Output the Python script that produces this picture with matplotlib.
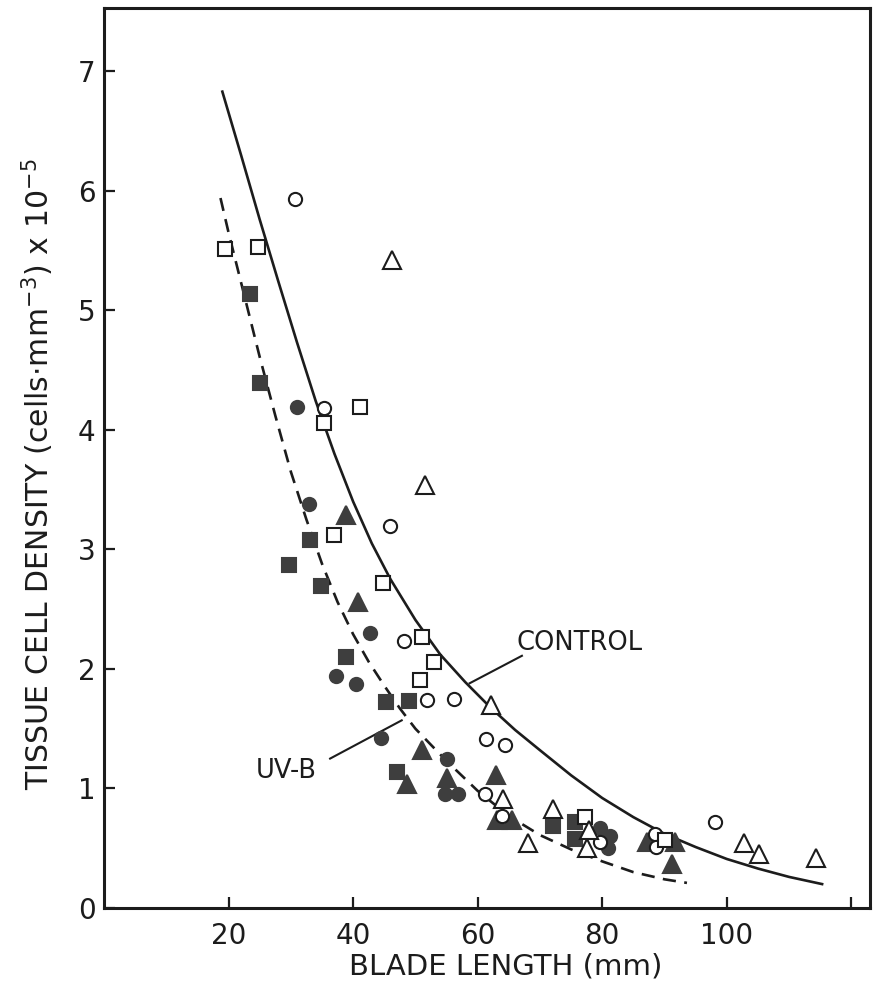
import matplotlib
matplotlib.use("Agg")
import matplotlib.pyplot as plt

plt.rcParams['font.family'] = ['DejaVu Sans']

# ---------------- data ----------------
# CONTROL (open symbols)
ctrl_circle_x = [30.7, 35.3, 45.9, 48.1, 51.8, 56.2, 61.4, 64.4, 61.2, 63.9, 79.6, 88.5, 88.7, 98.1]
ctrl_circle_y = [5.93, 4.18, 3.20, 2.23, 1.74, 1.75, 1.41, 1.36, 0.95, 0.77, 0.55, 0.62, 0.51, 0.72]

ctrl_square_x = [19.5, 24.7, 35.3, 41.1, 37.0, 44.8, 51.1, 53.0, 50.7, 77.2, 90.1]
ctrl_square_y = [5.51, 5.53, 4.06, 4.19, 3.12, 2.72, 2.27, 2.06, 1.91, 0.76, 0.57]

ctrl_tri_x = [46.2, 51.5, 62.2, 64.1, 72.1, 68.1, 77.8, 77.6, 102.7, 105.1, 114.4]
ctrl_tri_y = [5.42, 3.54, 1.70, 0.91, 0.83, 0.54, 0.65, 0.50, 0.54, 0.45, 0.42]

# UV-B (filled symbols)
uvb_circle_x = [31.0, 32.9, 42.7, 37.2, 40.4, 44.5, 55.0, 54.7, 56.9, 79.6, 81.3, 81.0]
uvb_circle_y = [4.19, 3.38, 2.30, 1.94, 1.87, 1.42, 1.25, 0.95, 0.95, 0.67, 0.60, 0.50]

uvb_square_x = [23.5, 25.1, 33.0, 29.7, 34.9, 38.8, 45.2, 48.9, 47.0, 72.1, 75.6, 75.6]
uvb_square_y = [5.14, 4.39, 3.08, 2.87, 2.69, 2.10, 1.72, 1.73, 1.14, 0.69, 0.72, 0.58]

uvb_tri_x = [38.9, 40.8, 51.0, 63.0, 48.6, 55.0, 63.1, 65.5, 87.2, 91.7, 91.2]
uvb_tri_y = [3.29, 2.56, 1.32, 1.11, 1.04, 1.09, 0.74, 0.74, 0.55, 0.55, 0.37]

# fitted curves
control_curve_x = [19.0, 22.0, 25.0, 28.0, 31.0, 34.0, 37.0, 40.0, 43.0, 46.0, 50.0, 54.0,
                   58.0, 62.0, 66.0, 70.0, 75.0, 80.0, 85.0, 90.0, 95.0, 100.0, 105.0,
                   110.0, 115.3]
control_curve_y = [6.83, 6.30, 5.76, 5.24, 4.73, 4.24, 3.80, 3.40, 3.05, 2.75, 2.41, 2.12,
                   1.89, 1.68, 1.49, 1.32, 1.11, 0.92, 0.76, 0.62, 0.51, 0.41, 0.33,
                   0.26, 0.20]

uvb_curve_x = [18.7, 20.0, 22.5, 25.0, 27.5, 30.0, 32.5, 35.0, 37.5, 40.0, 42.5, 45.0,
               47.5, 50.0, 55.0, 60.0, 65.0, 70.0, 75.0, 80.0, 85.0, 90.0, 93.6]
uvb_curve_y = [5.94, 5.65, 5.13, 4.61, 4.12, 3.65, 3.25, 2.88, 2.56, 2.29, 2.06, 1.86,
               1.67, 1.50, 1.23, 0.98, 0.77, 0.61, 0.49, 0.39, 0.30, 0.24, 0.21]

x_ticks = [20, 40, 60, 80, 100, 120]
x_tick_labels = ['20', '40', '60', '80', '100', '']
y_ticks = [0, 1, 2, 3, 4, 5, 6, 7]
y_tick_labels = ['0', '1', '2', '3', '4', '5', '6', '7']

# curve labels and leader lines
control_label = ("CONTROL", 76.4, 2.22)
control_leader = ([58.7, 67.1], [1.88, 2.11])
uvb_label = ("UV-B", 29.2, 1.15)
uvb_leader = ([36.3, 47.8], [1.25, 1.57])

# ---------------- drawing ----------------
INK = '#1c1c1c'
FILL = '#3e3e3e'

fig = plt.figure(figsize=(8.8, 9.83), dpi=100)
fig.patch.set_facecolor('white')
ax = fig.add_axes([0.1182, 0.0763, 0.8705, 0.9156])

ax.plot(control_curve_x, control_curve_y, '-', color=INK, lw=1.9, zorder=2,
        solid_joinstyle='round')
ax.plot(uvb_curve_x, uvb_curve_y, '--', color=INK, lw=1.9, dashes=(5, 3.2), zorder=2)

ax.plot(*control_leader, '-', color=INK, lw=1.5, zorder=2)
ax.plot(*uvb_leader, '-', color=INK, lw=1.5, zorder=2)

ew = 1.5
# filled (UV-B)
ax.plot(uvb_circle_x, uvb_circle_y, 'o', ms=9.5, mfc=FILL, mec=FILL, mew=ew, ls='none', zorder=3)
ax.plot(uvb_square_x, uvb_square_y, 's', ms=10, mfc=FILL, mec=FILL, mew=ew, ls='none', zorder=3)
ax.plot(uvb_tri_x, uvb_tri_y, '^', ms=13, mfc=FILL, mec=FILL, mew=ew, ls='none', zorder=3)
# open (CONTROL)
ax.plot(ctrl_circle_x, ctrl_circle_y, 'o', ms=9.5, mfc='white', mec=INK, mew=ew, ls='none', zorder=4)
ax.plot(ctrl_square_x, ctrl_square_y, 's', ms=10, mfc='white', mec=INK, mew=ew, ls='none', zorder=4)
ax.plot(ctrl_tri_x, ctrl_tri_y, '^', ms=13, mfc='white', mec=INK, mew=ew, ls='none', zorder=4)

ax.text(control_label[1], control_label[2], control_label[0], fontsize=18.5,
        ha='center', va='center', color=INK)
ax.text(uvb_label[1], uvb_label[2], uvb_label[0], fontsize=18.5,
        ha='center', va='center', color=INK)

ax.set_xlim(0, 123)
ax.set_ylim(0, 7.53)
ax.set_xticks(x_ticks)
ax.set_xticklabels(x_tick_labels)
ax.set_yticks(y_ticks)
ax.set_yticklabels(y_tick_labels)
ax.tick_params(axis='both', direction='in', length=8, width=1.6, colors=INK,
               labelsize=20, labelcolor=INK)
ax.tick_params(axis='x', pad=10)
ax.tick_params(axis='y', pad=6)

for s in ax.spines.values():
    s.set_linewidth(2.2)
    s.set_color(INK)

ax.set_xlabel("BLADE LENGTH (mm)", fontsize=21, color=INK)
ax.xaxis.set_label_coords(0.525, -0.050)
ax.set_ylabel("TISSUE CELL DENSITY (cells$\\cdot$mm$^{-3}$) x 10$^{-5}$", fontsize=21.5, color=INK)
ax.yaxis.set_label_coords(-0.063, 0.482)

fig.savefig("out.png", dpi=100, facecolor='white')
